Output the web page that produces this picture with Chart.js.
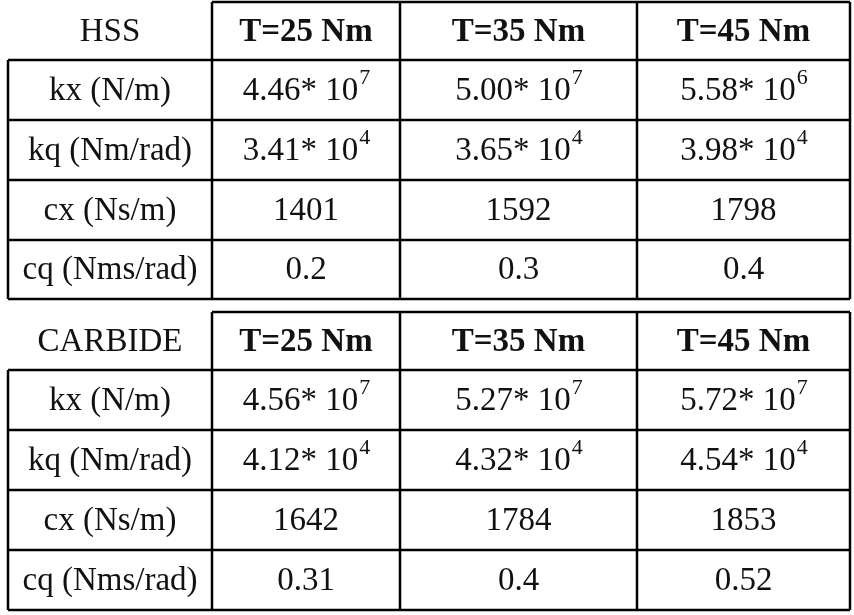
<!DOCTYPE html>
<html>
<head>
<meta charset="utf-8">
<script src="https://cdn.jsdelivr.net/npm/chart.js@4"></script>
<style>
  html, body { margin: 0; padding: 0; background: #fff; }
  #wrap { width: 854px; height: 615px; }
</style>
</head>
<body>
<div id="wrap"><canvas id="tbl"></canvas></div>
<script>
// table content
const columns = ['T=25 Nm', 'T=35 Nm', 'T=45 Nm'];
const rowLabels = ['kx (N/m)', 'kq (Nm/rad)', 'cx (Ns/m)', 'cq (Nms/rad)'];
const hssMantissa = [['4.46*', '5.00*', '5.58*'], ['3.41*', '3.65*', '3.98*'], ['1401', '1592', '1798'], ['0.2', '0.3', '0.4']];
const hssExponent = [[7, 7, 6], [4, 4, 4], [null, null, null], [null, null, null]];
const carbideMantissa = [['4.56*', '5.27*', '5.72*'], ['4.12*', '4.32*', '4.54*'], ['1642', '1784', '1853'], ['0.31', '0.4', '0.52']];
const carbideExponent = [[7, 7, 7], [4, 4, 4], [null, null, null], [null, null, null]];

// layout (pixel-like scale units)
const colEdges = [8, 212, 400, 637, 850];
const blocks = [
  { title: 'HSS', mant: hssMantissa, exp: hssExponent, rows: [2, 60, 120, 180, 240, 299] },
  { title: 'CARBIDE', mant: carbideMantissa, exp: carbideExponent, rows: [312, 370, 430, 490, 550, 610] }
];

const points = [];
blocks.forEach(b => {
  for (let r = 0; r < 5; r++) {
    for (let c = 0; c < 4; c++) {
      let text, exp = null, bold = false;
      if (r === 0) { text = c === 0 ? b.title : columns[c - 1]; bold = c > 0; }
      else if (c === 0) text = rowLabels[r - 1];
      else { text = b.mant[r - 1][c - 1]; exp = b.exp[r - 1][c - 1]; }
      points.push({
        x: (colEdges[c] + colEdges[c + 1]) / 2,
        y: (b.rows[r] + b.rows[r + 1]) / 2,
        text, exp, bold
      });
    }
  }
});

const tablePlugin = {
  id: 'tablePlugin',
  afterDatasetsDraw(chart) {
    const ctx = chart.ctx, xs = chart.scales.x, ys = chart.scales.y;
    const px = v => xs.getPixelForValue(v), py = v => ys.getPixelForValue(v);
    ctx.save();
    ctx.strokeStyle = '#000';
    ctx.lineWidth = 2.5;
    blocks.forEach(b => {
      ctx.beginPath();
      // header top line (skips first column)
      ctx.moveTo(px(colEdges[1]), py(b.rows[0])); ctx.lineTo(px(colEdges[4]), py(b.rows[0]));
      for (let r = 1; r < b.rows.length; r++) {
        ctx.moveTo(px(colEdges[0]), py(b.rows[r])); ctx.lineTo(px(colEdges[4]), py(b.rows[r]));
      }
      ctx.moveTo(px(colEdges[0]), py(b.rows[1])); ctx.lineTo(px(colEdges[0]), py(b.rows[5]));
      for (let c = 1; c < colEdges.length; c++) {
        ctx.moveTo(px(colEdges[c]), py(b.rows[0])); ctx.lineTo(px(colEdges[c]), py(b.rows[5]));
      }
      ctx.stroke();
    });
    ctx.fillStyle = '#111';
    ctx.textBaseline = 'middle';
    const family = '"Liberation Serif", "Times New Roman", serif';
    chart.data.datasets[0].data.forEach(p => {
      const x = px(p.x), y = py(p.y);
      const font = (p.bold ? 'bold ' : '') + '33px ' + family;
      ctx.font = font;
      if (p.exp === null || p.exp === undefined) {
        ctx.textAlign = 'center';
        ctx.fillText(p.text, x, y + 1);
      } else {
        const base = p.text + ' 10';
        const w1 = ctx.measureText(base).width;
        ctx.font = '22px ' + family;
        const w2 = ctx.measureText(String(p.exp)).width;
        const start = x - (w1 + w2) / 2;
        ctx.textAlign = 'left';
        ctx.font = font;
        ctx.fillText(base, start, y + 1);
        ctx.font = '22px ' + family;
        ctx.fillText(String(p.exp), start + w1 + 1, y - 12);
      }
    });
    ctx.restore();
  }
};

new Chart(document.getElementById('tbl'), {
  type: 'scatter',
  data: { datasets: [{ data: points, pointRadius: 0, pointHoverRadius: 0 }] },
  options: {
    responsive: true,
    maintainAspectRatio: false,
    animation: false,
    layout: { padding: 0 },
    plugins: { legend: { display: false }, tooltip: { enabled: false } },
    scales: {
      x: { type: 'linear', min: 0, max: 854, display: false },
      y: { type: 'linear', min: 0, max: 615, reverse: true, display: false }
    }
  },
  plugins: [tablePlugin]
});
</script>
</body>
</html>
